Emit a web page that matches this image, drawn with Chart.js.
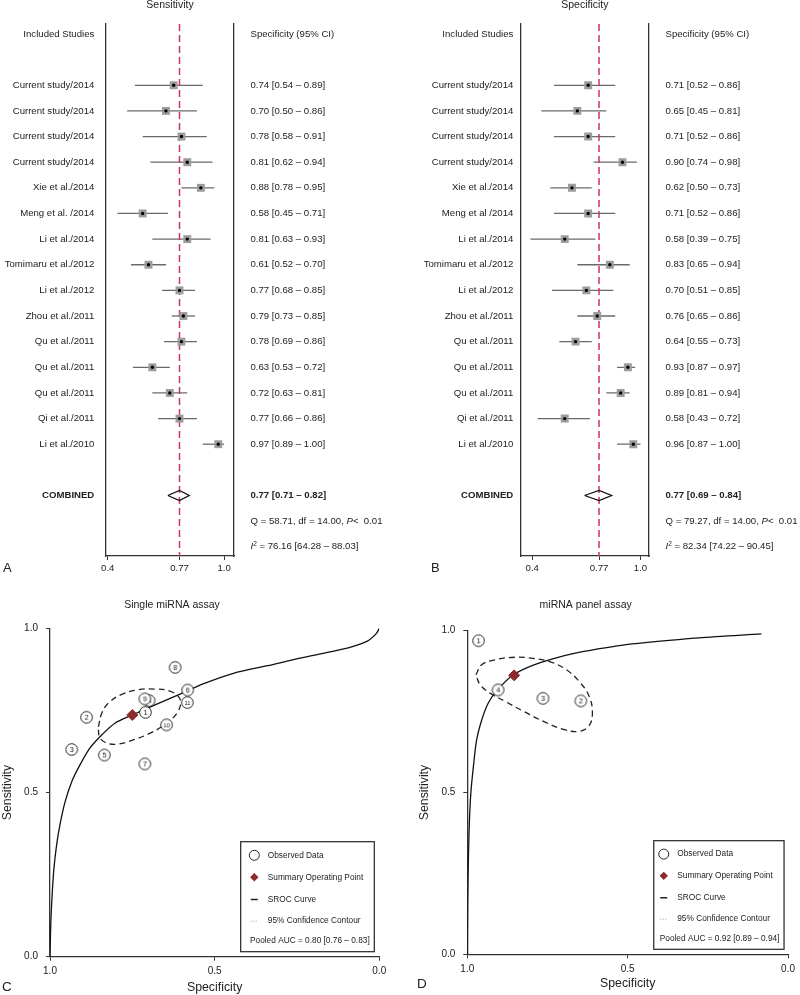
<!DOCTYPE html>
<html>
<head>
<meta charset="utf-8">
<script src="https://cdn.jsdelivr.net/npm/chart.js@4.4.1/dist/chart.umd.min.js"></script>
<style>
  html, body { margin: 0; padding: 0; background: #fff; }
  #page { position: relative; width: 800px; height: 995px; overflow: hidden; }
  canvas { position: absolute; }
</style>
</head>
<body>
<div id="page">
  <canvas id="forestSens" width="400" height="600" style="left:0;top:0"></canvas>
  <canvas id="forestSpec" width="400" height="600" style="left:400px;top:0"></canvas>
  <canvas id="srocSingle" width="400" height="395" style="left:0;top:600px"></canvas>
  <canvas id="srocPanel" width="400" height="395" style="left:400px;top:600px"></canvas>
</div>
<script>
// --- Forest plot data ---
const studiesSens = ['Current study/2014', 'Current study/2014', 'Current study/2014', 'Current study/2014',
  'Xie et al./2014', 'Meng et al. /2014', 'Li et al./2014', 'Tomimaru et al./2012', 'Li et al./2012',
  'Zhou et al./2011', 'Qu et al./2011', 'Qu et al./2011', 'Qu et al./2011', 'Qi et al./2011', 'Li et al./2010'];
const studiesSpec = ['Current study/2014', 'Current study/2014', 'Current study/2014', 'Current study/2014',
  'Xie et al./2014', 'Meng et al /2014', 'Li et al./2014', 'Tomimaru et al./2012', 'Li et al./2012',
  'Zhou et al./2011', 'Qu et al./2011', 'Qu et al./2011', 'Qu et al./2011', 'Qi et al./2011', 'Li et al./2010'];

const sensEst = [0.74, 0.70, 0.78, 0.81, 0.88, 0.58, 0.81, 0.61, 0.77, 0.79, 0.78, 0.63, 0.72, 0.77, 0.97];
const sensLo  = [0.54, 0.50, 0.58, 0.62, 0.78, 0.45, 0.63, 0.52, 0.68, 0.73, 0.69, 0.53, 0.63, 0.66, 0.89];
const sensHi  = [0.89, 0.86, 0.91, 0.94, 0.95, 0.71, 0.93, 0.70, 0.85, 0.85, 0.86, 0.72, 0.81, 0.86, 1.00];

const specEst = [0.71, 0.65, 0.71, 0.90, 0.62, 0.71, 0.58, 0.83, 0.70, 0.76, 0.64, 0.93, 0.89, 0.58, 0.96];
const specLo  = [0.52, 0.45, 0.52, 0.74, 0.50, 0.52, 0.39, 0.65, 0.51, 0.65, 0.55, 0.87, 0.81, 0.43, 0.87];
const specHi  = [0.86, 0.81, 0.86, 0.98, 0.73, 0.86, 0.75, 0.94, 0.85, 0.86, 0.73, 0.97, 0.94, 0.72, 1.00];

const pooledSens = [0.77, 0.71, 0.82];   // estimate, lower, upper
const pooledSpec = [0.77, 0.69, 0.84];
const qSens = [58.71, 14.00];            // Q, df
const qSpec = [79.27, 14.00];
const i2Sens = [76.16, 64.28, 88.03];
const i2Spec = [82.34, 74.22, 90.45];

const forestTicks = [0.4, 0.77, 1.0];
const forestTickLabels = ['0.4', '0.77', '1.0'];

// --- SROC data: single miRNA assay ---
const obsLabelsSingle = ['8', '6', '11', '4', '9', '1', '10', '2', '3', '5', '7'];
const obsSpecSingle = [0.620, 0.582, 0.583, 0.699, 0.712, 0.710, 0.646, 0.889, 0.934, 0.835, 0.712];
const obsSensSingle = [0.881, 0.812, 0.774, 0.780, 0.785, 0.744, 0.706, 0.729, 0.631, 0.614, 0.587];
const summarySingle = [0.750, 0.736];   // specificity, sensitivity
const srocSpecSingle = [1.000, 0.999, 0.997, 0.993, 0.988, 0.980, 0.970, 0.954, 0.934, 0.909, 0.879, 0.843,
  0.803, 0.750, 0.681, 0.600, 0.529, 0.443, 0.340, 0.241, 0.150, 0.089, 0.038, 0.010, 0.000];
const srocSensSingle = [0.000, 0.046, 0.117, 0.198, 0.269, 0.340, 0.401, 0.472, 0.533, 0.584, 0.635, 0.675,
  0.711, 0.736, 0.767, 0.802, 0.833, 0.863, 0.886, 0.909, 0.928, 0.942, 0.960, 0.983, 1.000];
const contourSpecSingle = [0.853, 0.843, 0.823, 0.782, 0.732, 0.681, 0.636, 0.610, 0.603, 0.615, 0.646,
  0.691, 0.747, 0.798, 0.833, 0.850];
const contourSensSingle = [0.700, 0.741, 0.772, 0.799, 0.813, 0.815, 0.809, 0.792, 0.772, 0.741, 0.711,
  0.683, 0.660, 0.647, 0.653, 0.670];
const aucSingle = [0.80, 0.76, 0.83];

// --- SROC data: miRNA panel assay ---
const obsLabelsPanel = ['1', '4', '3', '2'];
const obsSpecPanel = [0.965, 0.904, 0.764, 0.646];
const obsSensPanel = [0.969, 0.817, 0.791, 0.783];
const summaryPanel = [0.854, 0.862];
const srocSpecPanel = [1.000, 0.999, 0.997, 0.994, 0.989, 0.981, 0.971, 0.955, 0.935, 0.906, 0.857, 0.790,
  0.700, 0.641, 0.486, 0.279, 0.083];
const srocSensPanel = [0.000, 0.147, 0.271, 0.394, 0.498, 0.580, 0.662, 0.724, 0.776, 0.817, 0.863, 0.895,
  0.922, 0.935, 0.959, 0.978, 0.990];
const contourSpecPanel = [0.973, 0.955, 0.914, 0.852, 0.790, 0.739, 0.692, 0.651, 0.620, 0.610, 0.620,
  0.651, 0.697, 0.759, 0.821, 0.883, 0.929, 0.960];
const contourSensPanel = [0.864, 0.895, 0.910, 0.918, 0.914, 0.903, 0.880, 0.843, 0.797, 0.746, 0.707,
  0.689, 0.694, 0.718, 0.749, 0.782, 0.807, 0.833];
const aucPanel = [0.92, 0.89, 0.94];

const srocTicks = [1.0, 0.5, 0.0];

// --- Shared styling ---
const FAMILY = '"Liberation Sans", Arial, Helvetica, sans-serif';
const TEXT = '#222';
const DIAMOND_H = 0.2;   // half height of pooled diamond, in rows
Chart.defaults.font.family = FAMILY;
Chart.defaults.color = TEXT;

function drawRuns(ctx, x, y, runs) {
  // runs: [text, font, yShift]
  ctx.textAlign = 'left';
  runs.forEach(([t, f, dy]) => {
    ctx.font = f;
    ctx.fillText(t, x, y + (dy || 0));
    x += ctx.measureText(t).width;
  });
}

const forestLabels = {
  id: 'forestLabels',
  afterDraw(chart, args, o) {
    const {ctx, chartArea: a, scales: {y}} = chart;
    const f = '9.6px ' + FAMILY;
    const fb = 'bold 9.6px ' + FAMILY;
    const fi = 'italic 9.6px ' + FAMILY;
    const xl = a.left - o.gapLeft, xr = a.right + o.gapRight;
    const fmt = v => v.toFixed(2);
    ctx.save();
    ctx.fillStyle = TEXT;
    ctx.textBaseline = 'middle';

    ctx.font = '10.5px ' + FAMILY;
    ctx.textAlign = 'center';
    ctx.fillText(o.title, (a.left + a.right) / 2, 5);

    ctx.font = f;
    ctx.textAlign = 'right';
    ctx.fillText('Included Studies', xl, y.getPixelForValue(0));
    ctx.textAlign = 'left';
    ctx.fillText('Specificity (95% CI)', xr, y.getPixelForValue(0));

    o.names.forEach((name, i) => {
      const py = y.getPixelForValue(i + 2);
      ctx.font = f;
      ctx.textAlign = 'right';
      ctx.fillText(name, xl, py);
      ctx.textAlign = 'left';
      ctx.fillText(`${fmt(o.est[i])} [${fmt(o.lo[i])} \u2013 ${fmt(o.hi[i])}]`, xr, py);
    });

    const n = o.names.length;
    const pc = y.getPixelForValue(n + 3);
    ctx.font = fb;
    ctx.textAlign = 'right';
    ctx.fillText('COMBINED', xl, pc);
    ctx.textAlign = 'left';
    ctx.fillText(`${fmt(o.pooled[0])} [${fmt(o.pooled[1])} \u2013 ${fmt(o.pooled[2])}]`, xr, pc);

    drawRuns(ctx, xr, y.getPixelForValue(n + 4), [
      [`Q = ${fmt(o.q[0])}, df = ${fmt(o.q[1])}, `, f],
      ['P', fi],
      ['<  0.01', f]
    ]);
    drawRuns(ctx, xr, y.getPixelForValue(n + 5), [
      ['I', fi],
      ['2', '6.5px ' + FAMILY, -3],
      [` = ${fmt(o.i2[0])} [${fmt(o.i2[1])} \u2013 ${fmt(o.i2[2])}]`, f]
    ]);

    ctx.font = '13px ' + FAMILY;
    ctx.textAlign = 'left';
    ctx.fillText(o.letter, o.letterX, 568);
    ctx.restore();
  }
};

function forestChart(id, o) {
  const n = o.est.length;
  const rows = o.est.map((v, i) => i + 2);
  const combRow = n + 3;
  const yMin = -0.39, yMax = n + 5.36;
  const [pe, pl, ph] = o.pooled;

  const whiskers = o.lo.map((lo, i) => ({
    data: [{x: lo, y: rows[i]}, {x: o.hi[i], y: rows[i]}],
    showLine: true, borderColor: '#6a6a6a', borderWidth: 1.3, pointRadius: 0, order: 5
  }));

  const datasets = whiskers.concat([
    {
      data: [{x: pe, y: yMin}, {x: pe, y: yMax}],
      showLine: true, borderColor: '#cf3558', borderWidth: 1.5, borderDash: [7, 4],
      pointRadius: 0, order: 4
    },
    {
      data: [{x: pl, y: combRow}, {x: pe, y: combRow - DIAMOND_H}, {x: ph, y: combRow},
             {x: pe, y: combRow + DIAMOND_H}, {x: pl, y: combRow}],
      showLine: true, borderColor: '#111', borderWidth: 1.3, pointRadius: 0, order: 3
    },
    {
      data: o.est.map((v, i) => ({x: v, y: rows[i]})),
      pointStyle: 'rect', pointRadius: 5.6, backgroundColor: '#9c9c9c', borderWidth: 0, order: 2
    },
    {
      data: o.est.map((v, i) => ({x: v, y: rows[i]})),
      pointStyle: 'circle', pointRadius: 1.7, backgroundColor: '#000', borderWidth: 0, order: 1
    }
  ]);

  const sideAxis = pos => ({
    type: 'linear', position: pos, min: 0, max: 1,
    ticks: {display: false}, grid: {display: false},
    border: {display: true, color: '#333', width: 1.3},
    afterFit: s => { s.width = 0; }
  });

  new Chart(document.getElementById(id), {
    type: 'scatter',
    data: {datasets},
    options: {
      responsive: false, animation: false, events: [],
      layout: {padding: {left: o.left, right: o.right, top: 24, bottom: 4}},
      plugins: {
        legend: {display: false}, tooltip: {enabled: false},
        forestLabels: {
          title: o.title, names: o.names, est: o.est, lo: o.lo, hi: o.hi, pooled: o.pooled,
          q: o.q, i2: o.i2, letter: o.letter, letterX: o.letterX, gapLeft: o.gapLeft, gapRight: 16.5
        }
      },
      scales: {
        x: {
          type: 'linear', min: o.xMin, max: o.xMax,
          afterBuildTicks: s => { s.ticks = forestTicks.map(v => ({value: v})); },
          ticks: {
            callback: v => forestTickLabels[forestTicks.indexOf(v)],
            font: {size: 9.6}, color: TEXT, padding: 3, maxRotation: 0, autoSkip: false
          },
          grid: {drawOnChartArea: false, tickLength: 4, color: '#333'},
          border: {color: '#333', width: 1.3},
          afterFit: s => { s.height = 40; }
        },
        y: {
          type: 'linear', reverse: true, min: yMin, max: yMax, position: 'left',
          ticks: {display: false}, grid: {display: false},
          border: {display: true, color: '#333', width: 1.3},
          afterFit: s => { s.width = 0; }
        },
        y2: sideAxis('right')
      }
    },
    plugins: [forestLabels]
  });
}

// --- SROC helpers ---
function marker(label) {
  const c = document.createElement('canvas');
  c.width = 15; c.height = 15;
  const g = c.getContext('2d');
  g.beginPath();
  g.arc(7.5, 7.5, 5.8, 0, Math.PI * 2);
  g.fillStyle = '#fff';
  g.fill();
  g.lineWidth = 1;
  g.strokeStyle = '#222';
  g.stroke();
  g.fillStyle = '#222';
  g.font = (label.length > 1 ? '6px ' : '7.5px ') + FAMILY;
  g.textAlign = 'center';
  g.textBaseline = 'middle';
  g.fillText(label, 7.5, 8);
  return c;
}

const srocExtras = {
  id: 'srocExtras',
  afterDraw(chart, args, o) {
    const {ctx, chartArea: a} = chart;
    ctx.save();
    ctx.fillStyle = TEXT;
    ctx.textBaseline = 'middle';
    ctx.font = '10.5px ' + FAMILY;
    ctx.textAlign = 'center';
    ctx.fillText(o.title, o.titleX, 5);
    ctx.font = '13.5px ' + FAMILY;
    ctx.textAlign = 'left';
    ctx.fillText(o.letter, o.letterX, o.letterY);

    // legend box
    const bx = a.right - o.inset - o.boxW, by = a.bottom - 5 - o.boxH;
    ctx.strokeStyle = '#222';
    ctx.lineWidth = 1.2;
    ctx.strokeRect(bx, by, o.boxW, o.boxH);
    const sx = bx + o.symX, tx = bx + o.symX + 13.5;
    const ys = [13.6, 35.6, 57.8, 79.5].map(d => by + d * o.boxH / 110);
    ctx.font = '8.3px ' + FAMILY;

    ctx.beginPath();
    ctx.arc(sx, ys[0], 5, 0, Math.PI * 2);
    ctx.lineWidth = 1;
    ctx.stroke();
    ctx.fillText('Observed Data', tx, ys[0]);

    ctx.beginPath();
    ctx.moveTo(sx, ys[1] - 4.2); ctx.lineTo(sx + 4.2, ys[1]);
    ctx.lineTo(sx, ys[1] + 4.2); ctx.lineTo(sx - 4.2, ys[1]);
    ctx.closePath();
    ctx.fillStyle = '#8c2a2d';
    ctx.fill();
    ctx.fillStyle = TEXT;
    ctx.fillText('Summary Operating Point', tx, ys[1]);

    ctx.beginPath();
    ctx.moveTo(sx - 3.5, ys[2]); ctx.lineTo(sx + 3.5, ys[2]);
    ctx.lineWidth = 1.5;
    ctx.stroke();
    ctx.fillText('SROC Curve', tx, ys[2]);

    ctx.beginPath();
    ctx.setLineDash([1, 1.5]);
    ctx.moveTo(sx - 3.5, ys[3]); ctx.lineTo(sx + 3.5, ys[3]);
    ctx.lineWidth = 0.8;
    ctx.strokeStyle = '#888';
    ctx.stroke();
    ctx.setLineDash([]);
    ctx.fillText('95% Confidence Contour', tx, ys[3]);

    const auc = o.auc.map(v => v.toFixed(2));
    ctx.fillText(`Pooled AUC = ${auc[0]} [${auc[1]} \u2013 ${auc[2]}]`, bx + o.aucX, by + 99.3 * o.boxH / 110);
    ctx.restore();
  }
};

function srocChart(id, o) {
  const toXY = (xs, ys) => xs.map((x, i) => ({x, y: ys[i]}));
  const contour = toXY(o.contSpec, o.contSens);
  contour.push(contour[0]);

  const datasets = [
    {
      data: [{x: o.summary[0], y: o.summary[1]}],
      pointStyle: 'rectRot', pointRadius: 5.5, backgroundColor: '#8c2a2d', borderColor: '#8c2a2d', order: 0
    },
    {
      data: toXY(o.obsSpec, o.obsSens),
      pointStyle: o.obsLabels.map(marker), pointRadius: 6, order: 1
    },
    {
      data: contour, showLine: true, borderColor: '#222', borderWidth: 1.3, borderDash: [6, 4],
      tension: 0.4, pointRadius: 0, order: 2
    },
    {
      data: toXY(o.srocSpec, o.srocSens), showLine: true, borderColor: '#111', borderWidth: 1.3,
      tension: 0.3, pointRadius: 0, order: 3
    }
  ];

  const tickSet = s => { s.ticks = srocTicks.map(v => ({value: v})); };

  new Chart(document.getElementById(id), {
    type: 'scatter',
    data: {datasets},
    options: {
      responsive: false, animation: false, events: [],
      layout: {padding: o.padding},
      plugins: {
        legend: {display: false}, tooltip: {enabled: false},
        srocExtras: o.extras
      },
      scales: {
        x: {
          type: 'linear', reverse: true, min: 0, max: 1,
          afterBuildTicks: tickSet,
          ticks: {callback: v => v.toFixed(1), font: {size: 10}, color: TEXT, padding: 5, maxRotation: 0},
          grid: {drawOnChartArea: false, tickLength: 4, color: '#333'},
          border: {color: '#333', width: 1.3},
          title: {display: true, text: 'Specificity', font: {size: 12.3}, color: TEXT, padding: 0},
          afterFit: s => { s.height = o.xAxisH; }
        },
        y: {
          type: 'linear', min: 0, max: 1,
          afterBuildTicks: tickSet,
          ticks: {callback: v => v.toFixed(1), font: {size: 10}, color: TEXT, padding: 8},
          grid: {drawOnChartArea: false, tickLength: 4, color: '#333'},
          border: {color: '#333', width: 1.3},
          title: {display: true, text: 'Sensitivity', font: {size: 12.3}, color: TEXT, padding: 0},
          afterFit: s => { s.width = o.yAxisW; }
        }
      }
    },
    plugins: [srocExtras]
  });
}

document.addEventListener('DOMContentLoaded', function () {
  // --- A: sensitivity forest plot ---
  forestChart('forestSens', {
    title: 'Sensitivity', letter: 'A', letterX: 3,
    names: studiesSens, est: sensEst, lo: sensLo, hi: sensHi,
    pooled: pooledSens, q: qSens, i2: i2Sens,
    xMin: 0.391, xMax: 1.051, left: 106, right: 166, gapLeft: 11.7
  });

  // --- B: specificity forest plot ---
  forestChart('forestSpec', {
    title: 'Specificity', letter: 'B', letterX: 31,
    names: studiesSpec, est: specEst, lo: specLo, hi: specHi,
    pooled: pooledSpec, q: qSpec, i2: i2Spec,
    xMin: 0.336, xMax: 1.047, left: 120.7, right: 151, gapLeft: 7.4
  });

  // --- C: single miRNA SROC ---
  srocChart('srocSingle', {
    obsLabels: obsLabelsSingle, obsSpec: obsSpecSingle, obsSens: obsSensSingle,
    summary: summarySingle, srocSpec: srocSpecSingle, srocSens: srocSensSingle,
    contSpec: contourSpecSingle, contSens: contourSensSingle,
    padding: {left: 0, right: 20.7, top: 28.3, bottom: 0}, xAxisH: 38.3, yAxisW: 50,
    extras: {
      title: 'Single miRNA assay', titleX: 172, letter: 'C', letterX: 2, letterY: 387.7,
      boxW: 133.6, boxH: 110, inset: 5, symX: 13.6, aucX: 9.3, auc: aucSingle
    }
  });

  // --- D: miRNA panel SROC ---
  srocChart('srocPanel', {
    obsLabels: obsLabelsPanel, obsSpec: obsSpecPanel, obsSens: obsSensPanel,
    summary: summaryPanel, srocSpec: srocSpecPanel, srocSens: srocSensPanel,
    contSpec: contourSpecPanel, contSens: contourSensPanel,
    padding: {left: 17, right: 10, top: 30.7, bottom: 4}, xAxisH: 36.7, yAxisW: 50.3,
    extras: {
      title: 'miRNA panel assay', titleX: 185.7, letter: 'D', letterX: 17, letterY: 384,
      boxW: 130.3, boxH: 108.6, inset: 4, symX: 10, aucX: 6, auc: aucPanel
    }
  });
});
</script>
</body>
</html>
